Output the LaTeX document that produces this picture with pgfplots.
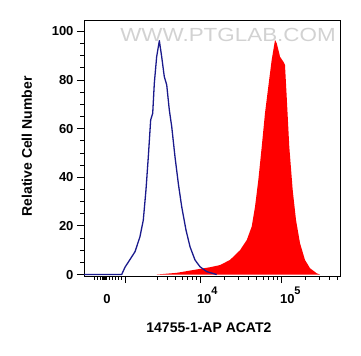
\documentclass[border=0pt]{standalone}
\usepackage{fontspec}
\setmainfont{Liberation Sans}
\usepackage{pgfplots}
\pgfplotsset{compat=1.18}
\definecolor{navyline}{HTML}{1A1A8C}
\newcommand{\sexp}[1]{\raisebox{9bp}{\fontsize{11bp}{12bp}\selectfont\bfseries #1}}
\begin{document}
\begin{tikzpicture}
\useasboundingbox (-84bp,-80bp) rectangle (277bp,276bp);
\begin{axis}[
  at={(0,0)}, anchor=south west,
  scale only axis, width=256bp, height=256bp,
  xmin=2.568, xmax=5.728, ymin=-0.6, ymax=104.7,
  axis line style={line width=0.9bp},
  tick align=outside,
  xtick pos=left, ytick pos=left,
  major tick length=7bp, minor tick length=3.5bp,
  every tick/.style={black, line width=0.9bp},
  ytick={0,20,40,60,80,100},
  yticklabels={\textbf{0},\textbf{20},\textbf{40},\textbf{60},\textbf{80},\textbf{100}},
  minor y tick num=3,
  xtick={3.083,4,5},
  xticklabels={,\rlap{\hspace{-3bp}\textbf{10}\sexp{4}},\rlap{\hspace{-1bp}\textbf{10}\sexp{5}}},
  minor xtick={2.691,2.728,2.765,2.790,
    2.797,2.802,2.807,2.812,2.817,2.822,2.827,2.832,2.837,2.842,
    2.877,2.914,2.951,2.988,3.025,
    3.477,3.602,3.699,3.778,3.845,3.903,3.954,
    4.301,4.477,4.602,4.699,4.778,4.845,4.903,4.954,
    5.301,5.477,5.602,5.699},
  extra x ticks={2.852},
  extra x tick labels={\textbf{0}},
  extra x tick style={major tick length=0bp,
     xticklabel style={yshift=-7bp}},
  ticklabel style={font=\fontsize{13bp}{14bp}\selectfont},
  xticklabel style={text height=9bp, text depth=0pt, anchor=north, yshift=-8bp},
  xlabel={\textbf{14755-1-AP ACAT2}},
  ylabel={\textbf{Relative Cell Number}},
  label style={font=\fontsize{14bp}{16bp}\selectfont},
  xlabel style={at={(axis description cs:0.488,-0.203)}, anchor=center},
  ylabel style={at={(axis description cs:-0.223,0.506)}, anchor=center, rotate=0},
  clip=true,
]
\node[text=gray!35, font=\fontsize{19bp}{20bp}\selectfont, xscale=1.18, inner sep=0pt]
  at (rel axis cs:0.5625,0.943) {WWW.PTGLAB.COM};
\addplot[fill=red, draw=none] coordinates {
(3.465,0) (3.712,0.7) (3.959,2.1) (4.123,3) (4.247,3.9) (4.370,6) (4.494,10)
(4.577,14.2) (4.638,19.7) (4.679,27.9) (4.720,38.9) (4.762,52.6) (4.802,66.3)
(4.843,77.3) (4.885,88.3) (4.926,96.5) (4.947,95.1) (4.988,89.6) (5.028,87.6)
(5.049,86.2) (5.070,73.2) (5.102,52.6) (5.144,34.8) (5.185,22.4) (5.235,12.8)
(5.296,6) (5.358,2.6) (5.441,0.5) (5.481,0)
} \closedcycle;
\addplot[navyline, line width=1.3bp, line join=round] coordinates {
(2.568,0) (3.033,0) (3.074,3) (3.136,6.2) (3.198,9.4) (3.259,15.6) (3.300,22.4)
(3.333,34.8) (3.362,48.5) (3.391,63.6) (3.416,66.3) (3.436,78.7) (3.465,89.6)
(3.498,96.2) (3.527,89.6) (3.559,81.4) (3.589,78) (3.621,67.7) (3.651,60.8)
(3.691,48.5) (3.732,37.5) (3.774,27.9) (3.827,18.3) (3.877,11.4) (3.938,6)
(4.0,3.2) (4.083,1.2) (4.206,0)
};
\end{axis}
\end{tikzpicture}
\end{document}
